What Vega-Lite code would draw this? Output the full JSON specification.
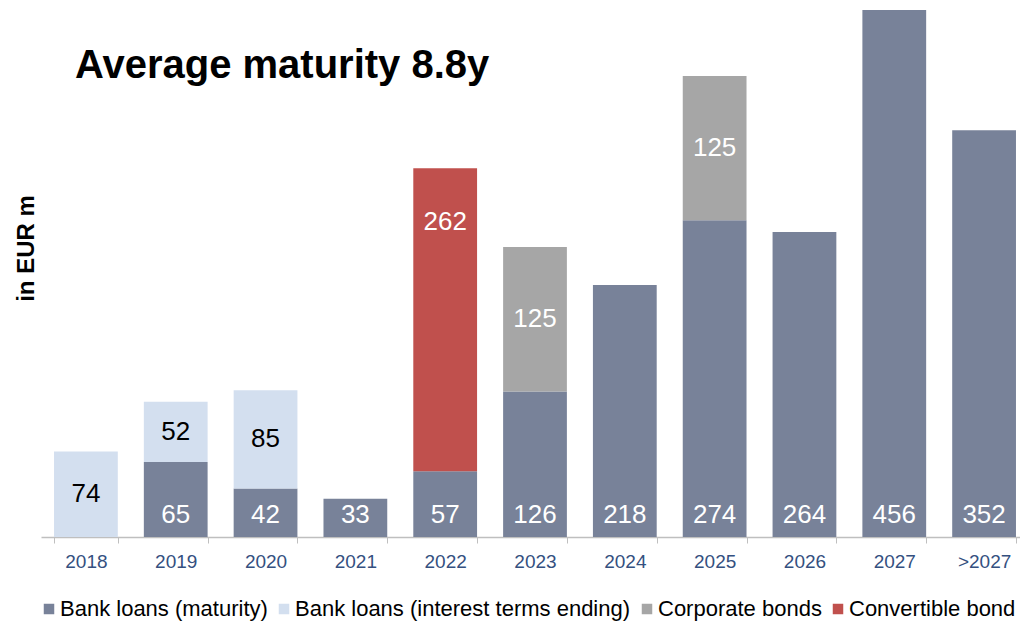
{
  "$schema": "https://vega.github.io/schema/vega-lite/v6.json",
  "autosize": {"type": "none"},
  "width": 979,
  "height": 527,
  "padding": {"left": 41, "top": 10, "right": 0, "bottom": 86},
  "background": "white",
  "title": {
    "text": "Average maturity 8.8y",
    "anchor": "start",
    "frame": "group",
    "font": "Liberation Sans, Arial, sans-serif",
    "fontSize": 40,
    "fontWeight": "bold",
    "color": "#000000",
    "baseline": "alphabetic",
    "offset": 0,
    "dx": 34,
    "dy": 108
  },
  "data": {
    "values": [
      {"year": "2018", "category": "Bank loans (interest terms ending)", "value": 74},
      {"year": "2019", "category": "Bank loans (maturity)", "value": 65},
      {"year": "2019", "category": "Bank loans (interest terms ending)", "value": 52},
      {"year": "2020", "category": "Bank loans (maturity)", "value": 42},
      {"year": "2020", "category": "Bank loans (interest terms ending)", "value": 85},
      {"year": "2021", "category": "Bank loans (maturity)", "value": 33},
      {"year": "2022", "category": "Bank loans (maturity)", "value": 57},
      {"year": "2022", "category": "Convertible bond", "value": 262},
      {"year": "2023", "category": "Bank loans (maturity)", "value": 126},
      {"year": "2023", "category": "Corporate bonds", "value": 125},
      {"year": "2024", "category": "Bank loans (maturity)", "value": 218},
      {"year": "2025", "category": "Bank loans (maturity)", "value": 274},
      {"year": "2025", "category": "Corporate bonds", "value": 125},
      {"year": "2026", "category": "Bank loans (maturity)", "value": 264},
      {"year": "2027", "category": "Bank loans (maturity)", "value": 456},
      {"year": ">2027", "category": "Bank loans (maturity)", "value": 352}
    ]
  },
  "transform": [
    {"calculate": "datum.category === 'Bank loans (maturity)' ? 0 : 1", "as": "k"},
    {"stack": "value", "groupby": ["year"], "sort": [{"field": "k", "order": "ascending"}], "as": ["y0", "y1"]},
    {"calculate": "(datum.y0 + datum.y1) / 2", "as": "mid"}
  ],
  "encoding": {
    "x": {
      "field": "year",
      "type": "ordinal",
      "sort": ["2018", "2019", "2020", "2021", "2022", "2023", "2024", "2025", "2026", "2027", ">2027"],
      "scale": {"range": [0, 988], "paddingInner": 0.29, "paddingOuter": 0.145},
      "axis": {"title": null}
    }
  },
  "layer": [
    {
      "mark": {"type": "bar"},
      "encoding": {
        "y": {"field": "y1", "type": "quantitative", "title": "in EUR m", "scale": {"domain": [0, 456], "nice": false, "zero": true}},
        "y2": {"field": "y0"},
        "color": {
          "field": "category",
          "type": "nominal",
          "scale": {
            "domain": ["Bank loans (maturity)", "Bank loans (interest terms ending)", "Corporate bonds", "Convertible bond"],
            "range": ["#788299", "#D3DFEF", "#A6A6A6", "#C0504D"]
          },
          "legend": {
            "title": null,
            "orient": "none",
            "direction": "horizontal",
            "legendX": -3,
            "legendY": 588,
            "symbolType": "square",
            "symbolSize": 110,
            "symbolStrokeWidth": 0,
            "labelFontSize": 22,
            "labelFont": "Liberation Sans, Arial, sans-serif",
            "labelColor": "#000000",
            "labelOffset": 0,
            "columnPadding": 5,
            "labelLimit": 500
          }
        }
      }
    },
    {
      "transform": [{"filter": "datum.category === 'Bank loans (maturity)'"}],
      "mark": {"type": "text", "dy": -22, "baseline": "middle", "align": "center", "fontSize": 26, "font": "Liberation Sans, Arial, sans-serif", "color": "#FFFFFF"},
      "encoding": {
        "y": {"field": "y0", "type": "quantitative", "title": "in EUR m"},
        "text": {"field": "value", "type": "quantitative"}
      }
    },
    {
      "transform": [{"filter": "datum.category === 'Bank loans (interest terms ending)' || datum.category === 'Corporate bonds'"}],
      "mark": {"type": "text", "baseline": "middle", "align": "center", "fontSize": 26, "font": "Liberation Sans, Arial, sans-serif"},
      "encoding": {
        "y": {"field": "mid", "type": "quantitative", "title": "in EUR m"},
        "text": {"field": "value", "type": "quantitative"},
        "color": {"condition": {"test": "datum.category === 'Bank loans (interest terms ending)'", "value": "#000000"}, "value": "#FFFFFF"}
      }
    },
    {
      "transform": [{"filter": "datum.category === 'Convertible bond'"}],
      "mark": {"type": "text", "dy": 54, "baseline": "middle", "align": "center", "fontSize": 26, "font": "Liberation Sans, Arial, sans-serif", "color": "#FFFFFF"},
      "encoding": {
        "y": {"field": "y1", "type": "quantitative", "title": "in EUR m"},
        "text": {"field": "value", "type": "quantitative"}
      }
    }
  ],
  "config": {
    "view": {"stroke": null},
    "axisY": {
      "labels": false,
      "ticks": false,
      "domain": false,
      "grid": false,
      "titleFont": "Liberation Sans, Arial, sans-serif",
      "titleFontSize": 24,
      "titleFontWeight": "bold",
      "titleColor": "#000000",
      "titleBaseline": "alphabetic",
      "titleX": -8,
      "titleY": 238
    },
    "axisX": {
      "labelAngle": 0,
      "labelFont": "Liberation Sans, Arial, sans-serif",
      "labelFontSize": 19,
      "labelColor": "#34507F",
      "labelPadding": 9,
      "tickBand": "extent",
      "tickColor": "#BFBFBF",
      "tickSize": 6,
      "domainColor": "#BFBFBF",
      "domainWidth": 1.5,
      "grid": false
    }
  }
}
